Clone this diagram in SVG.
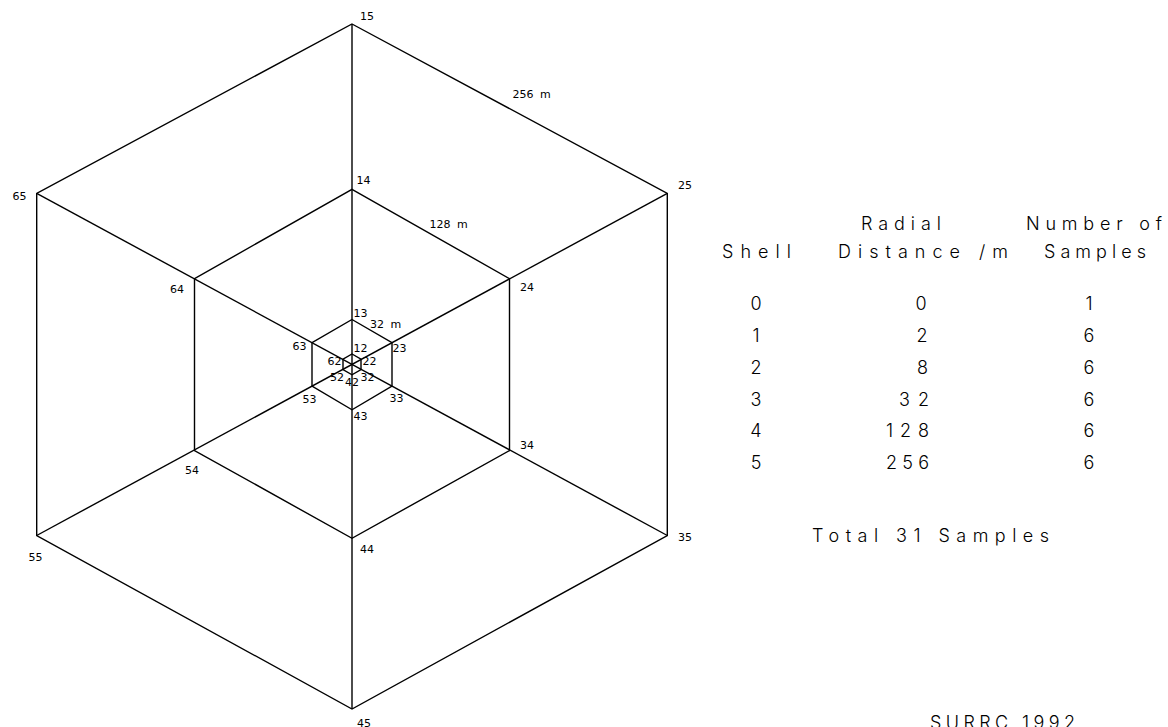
<svg xmlns="http://www.w3.org/2000/svg" width="1168" height="727" viewBox="0 0 1168 727">
<style>
.ln{fill:none;stroke:#000;stroke-width:1.4;stroke-linejoin:miter}
.lb{font-family:"DejaVu Sans",sans-serif;font-size:11px;fill:#000}
.tb{font-family:Inter,"Liberation Sans",sans-serif;font-weight:300;font-size:18px;fill:#000}
</style>
<rect width="1168" height="727" fill="#fff"/>
<g id="connectors">
<line class="ln" x1="352" y1="24" x2="352" y2="709"/>
<line class="ln" x1="667.3" y1="193.3" x2="36.7" y2="535.5"/>
<line class="ln" x1="36.7" y1="193.3" x2="667.3" y2="535.5"/>
</g>
<g id="shell5">
<polygon class="ln" points="352,24 667.3,193.3 667.3,535.5 352,709 36.7,535.5 36.7,193.3"/>
<text class="lb" x="360" y="20">15</text>
<text class="lb" x="678" y="189">25</text>
<text class="lb" x="678" y="541">35</text>
<text class="lb" x="357" y="726.5">45</text>
<text class="lb" x="28.5" y="560.5">55</text>
<text class="lb" x="12.5" y="199.5">65</text>
<text class="lb" x="512.5" y="98" word-spacing="3">256 m</text>
</g>
<g id="shell4">
<polygon class="ln" points="352,189.3 509.5,278.7 509.5,450.5 352,538.3 194.5,450.5 194.5,278.7"/>
<text class="lb" x="356.5" y="184">14</text>
<text class="lb" x="520" y="290.5">24</text>
<text class="lb" x="520" y="449">34</text>
<text class="lb" x="360" y="552.5">44</text>
<text class="lb" x="185" y="474">54</text>
<text class="lb" x="170" y="293">64</text>
<text class="lb" x="429.5" y="227.5" word-spacing="3">128 m</text>
</g>
<g id="shell3">
<polygon class="ln" points="352,319.5 392,342.6 392,386.2 352,409.8 312,386.2 312,342.6"/>
<text class="lb" x="353.5" y="316.5">13</text>
<text class="lb" x="392.5" y="352">23</text>
<text class="lb" x="389.5" y="401.5">33</text>
<text class="lb" x="353.5" y="420">43</text>
<text class="lb" x="302.5" y="403">53</text>
<text class="lb" x="292.5" y="350">63</text>
<text class="lb" x="370" y="328" word-spacing="3">32 m</text>
</g>
<g id="shell2">
<polygon class="ln" points="352,354 361,359.2 361,369.6 352,374.8 343,369.6 343,359.2"/>
<text class="lb" x="353.5" y="351.5">12</text>
<text class="lb" x="362.5" y="365">22</text>
<text class="lb" x="360.5" y="380.5">32</text>
<text class="lb" x="345" y="386">42</text>
<text class="lb" x="330" y="380.5">52</text>
<text class="lb" x="327.5" y="365">62</text>
</g>
<g id="table">
<text class="tb" x="861" y="229.5" textLength="80" lengthAdjust="spacing">Radial</text>
<text class="tb" x="1026" y="229.5" textLength="136" lengthAdjust="spacing">Number of</text>
<text class="tb" x="722" y="258" textLength="69" lengthAdjust="spacing">Shell</text>
<text class="tb" x="838" y="258" textLength="170" lengthAdjust="spacing">Distance /m</text>
<text class="tb" x="1044" y="258" textLength="102" lengthAdjust="spacing">Samples</text>
<g text-anchor="middle">
<text class="tb" x="756" y="310">0</text>
<text class="tb" x="756" y="342">1</text>
<text class="tb" x="756" y="373.5">2</text>
<text class="tb" x="756" y="405.5">3</text>
<text class="tb" x="756" y="437">4</text>
<text class="tb" x="756" y="469">5</text>
<text class="tb" x="921" y="310">0</text>
<text class="tb" x="922" y="342">2</text>
<text class="tb" x="922.5" y="373.5">8</text>
<text class="tb" x="1089" y="310">1</text>
<text class="tb" x="1089" y="342">6</text>
<text class="tb" x="1089" y="373.5">6</text>
<text class="tb" x="1089" y="405.5">6</text>
<text class="tb" x="1089" y="437">6</text>
<text class="tb" x="1089" y="469">6</text>
</g>
<text class="tb" x="899" y="405.5" textLength="30" lengthAdjust="spacing">32</text>
<text class="tb" x="886" y="437" textLength="43" lengthAdjust="spacing">128</text>
<text class="tb" x="886" y="469" textLength="43" lengthAdjust="spacing">256</text>
<text class="tb" x="812" y="542" textLength="237" lengthAdjust="spacing">Total 31 Samples</text>
<text class="tb" x="930" y="729" textLength="145" lengthAdjust="spacing">SURRC 1992</text>
</g>
</svg>
